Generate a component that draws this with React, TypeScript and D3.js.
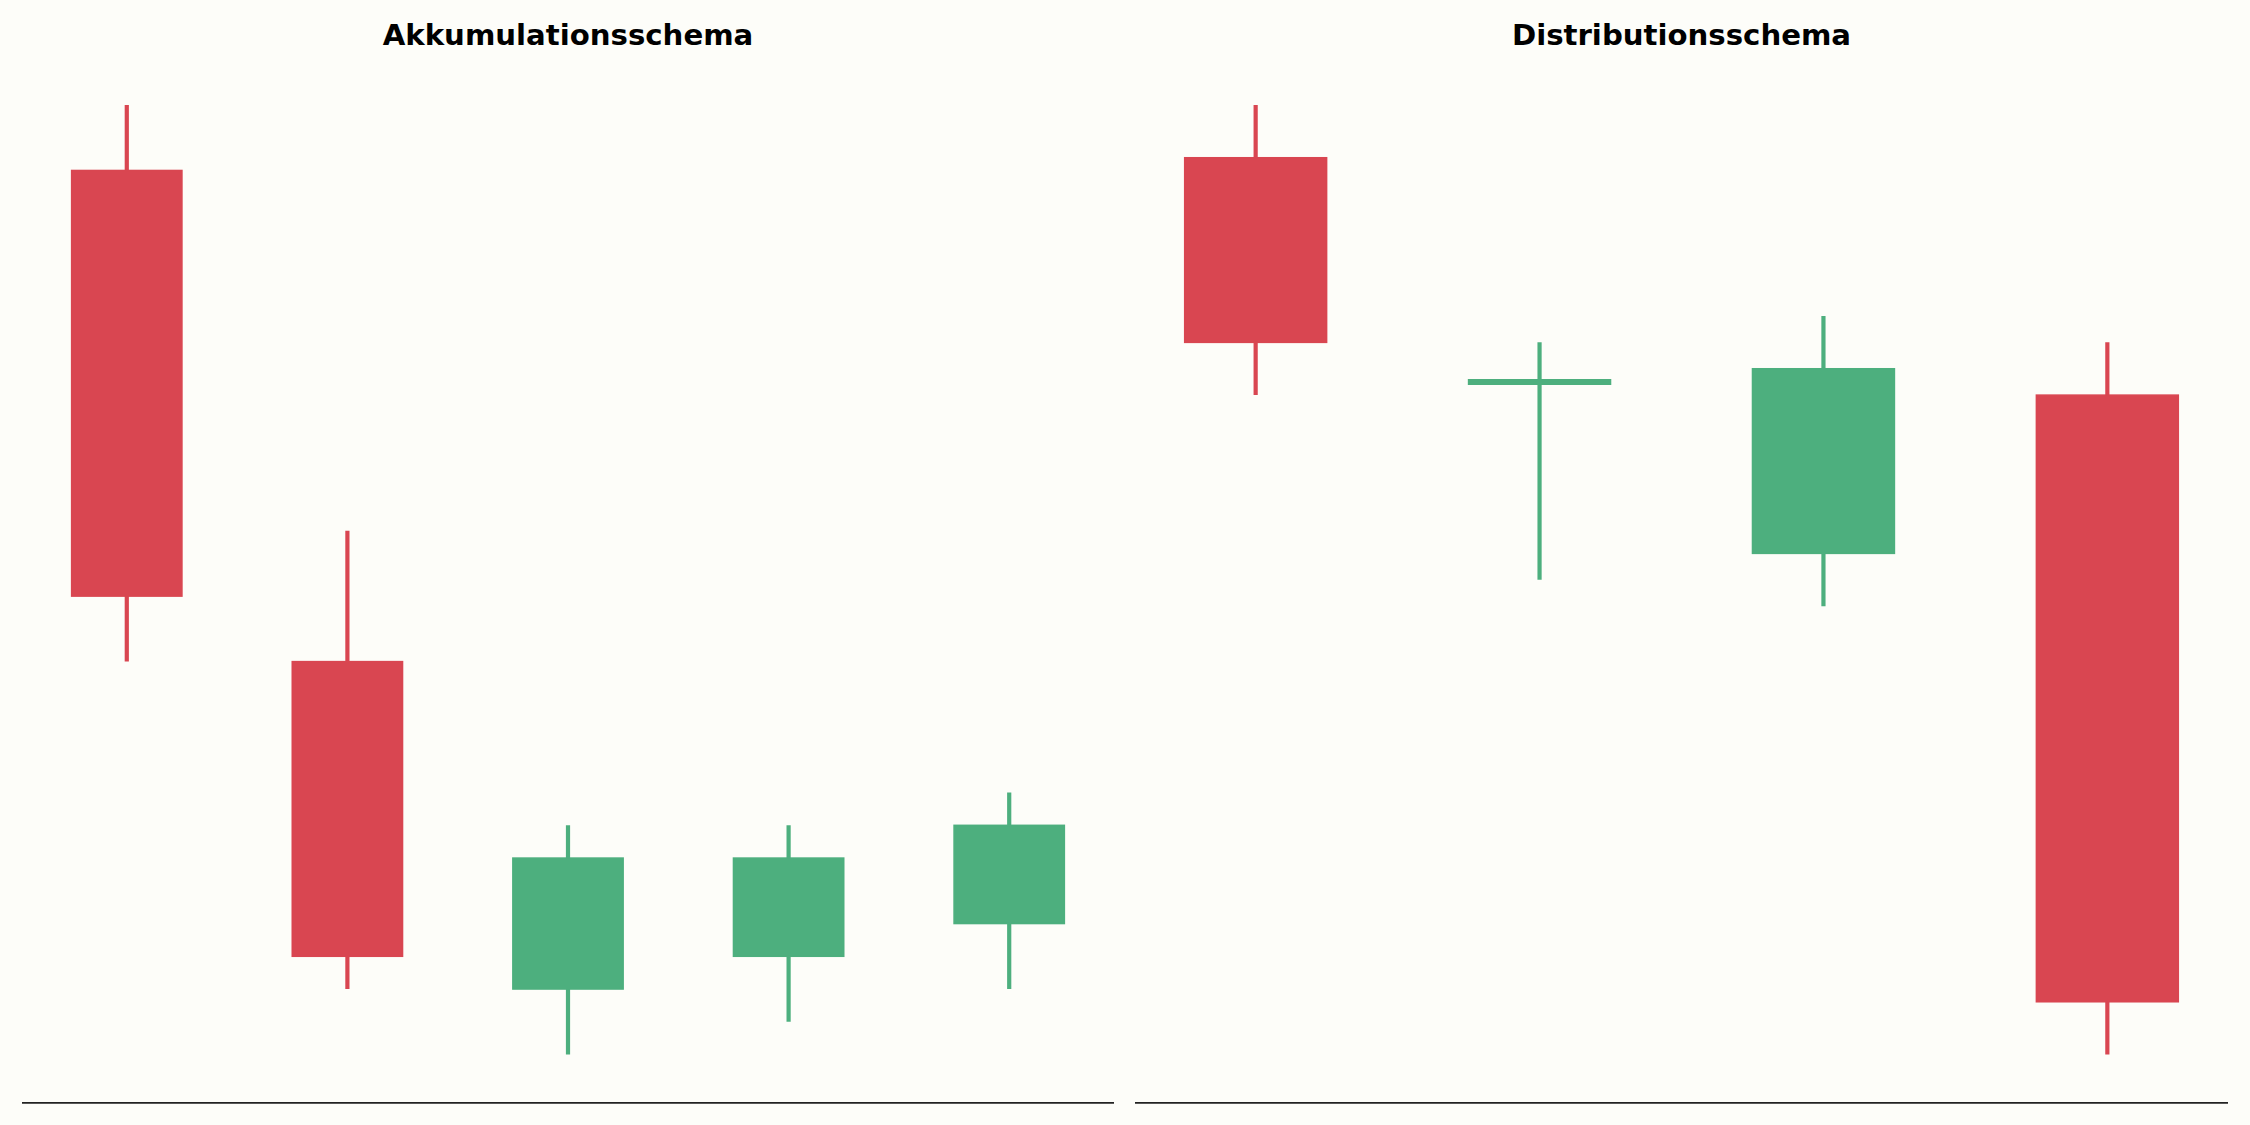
import React from "react";
import * as d3 from "d3";

const accTitle = "Akkumulationsschema";
const accOpen = [98, 83, 73, 74, 75];
const accHigh = [100, 87, 78, 78, 79];
const accLow = [83, 73, 71, 72, 73];
const accClose = [85, 74, 77, 77, 78];

const distTitle = "Distributionsschema";
const distOpen = [98, 89.5, 83, 89];
const distHigh = [100, 91, 92, 91];
const distLow = [89, 82, 81, 64];
const distClose = [91, 89.5, 90, 66];

const RED = "#d94651";
const GREEN = "#4daf7e";
const BG = "#fdfdf9";

type Panel = {
  title: string;
  open: number[];
  high: number[];
  low: number[];
  close: number[];
  x0: number;
  x1: number;
};

const TOP = 57.5;
const BOTTOM = 1102;
const BODY_W = 0.5;

function CandlePanel({ p }: { p: Panel }) {
  const n = p.open.length;
  const xMinData = -BODY_W / 2;
  const xMaxData = n - 1 + BODY_W / 2;
  const xm = (xMaxData - xMinData) * 0.05;
  const x = d3.scaleLinear().domain([xMinData - xm, xMaxData + xm]).range([p.x0, p.x1]);
  const lo = d3.min(p.low) as number;
  const hi = d3.max(p.high) as number;
  const ym = (hi - lo) * 0.05;
  const y = d3.scaleLinear().domain([lo - ym, hi + ym]).range([BOTTOM, TOP]);
  const bw = x(BODY_W) - x(0);
  const idx = d3.range(n);
  return (
    <g>
      <text
        x={(p.x0 + p.x1) / 2}
        y={44.5}
        textAnchor="middle"
        fontFamily="DejaVu Sans"
        fontWeight="bold"
        fontSize={29.2}
        fill="#000"
      >
        {p.title}
      </text>
      {idx.map((i) => {
        const o = p.open[i];
        const c = p.close[i];
        const col = c >= o ? GREEN : RED;
        const cx = x(i);
        const top = y(Math.max(o, c));
        const bot = y(Math.min(o, c));
        return (
          <g key={i}>
            <line x1={cx} x2={cx} y1={y(p.high[i])} y2={y(p.low[i])} stroke={col} strokeWidth={4.2} />
            {o === c ? (
              <line x1={cx - bw / 2 - 0.75} x2={cx + bw / 2 + 0.75} y1={top} y2={top} stroke={col} strokeWidth={6} />
            ) : (
              <rect x={cx - bw / 2} y={top} width={bw} height={bot - top} fill={col} stroke={col} strokeWidth={1.5} />
            )}
          </g>
        );
      })}
      <line x1={p.x0} x2={p.x1} y1={BOTTOM + 0.8} y2={BOTTOM + 0.8} stroke="#222" strokeWidth={1.7} />
    </g>
  );
}

export default function App() {
  React.useEffect(() => {
    document.body.style.margin = "0";
    document.body.style.background = BG;
  }, []);
  const panels: Panel[] = [
    { title: accTitle, open: accOpen, high: accHigh, low: accLow, close: accClose, x0: 22, x1: 1114 },
    { title: distTitle, open: distOpen, high: distHigh, low: distLow, close: distClose, x0: 1135, x1: 2228 },
  ];
  return (
    <svg
      width={2250}
      height={1125}
      style={{ position: "absolute", left: 0, top: 0, display: "block", background: BG }}
    >
      <rect x={0} y={0} width={2250} height={1125} fill={BG} />
      {panels.map((p, i) => (
        <CandlePanel key={i} p={p} />
      ))}
    </svg>
  );
}
